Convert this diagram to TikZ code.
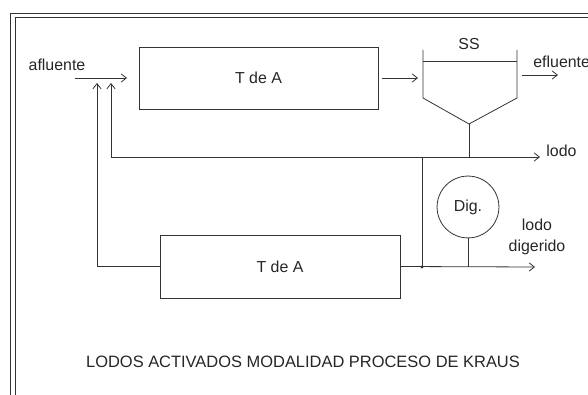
\documentclass[tikz,border=0pt]{standalone}
\usepackage{fontspec}
\setmainfont{Liberation Sans}
\usetikzlibrary{arrows.meta}

\begin{document}
\begin{tikzpicture}[
  x=0.0265cm, y=-0.0265cm,
  >={Straight Barb[length=1.4mm,width=2.2mm]},
  line width=0.6pt,
  color=black!80,
  lbl/.style={font=\fontsize{12}{14}\selectfont, text=black!85, inner sep=0pt},
  tank/.style={draw, minimum width=6.33cm, minimum height=1.64cm, font=\fontsize{12}{14}\selectfont, text=black!85},
]
\useasboundingbox (0,0) rectangle (588,395);
% frame (double line, cut by the page)
\draw (10,395) -- (10,13) -- (588,13);
\draw (15,395) -- (15,17) -- (588,17);
% nodes
\node[tank] (tda1) at (258.5,78) {T de A};
\node[tank, minimum width=6.36cm, minimum height=1.67cm] (tda2) at (280,266.5) {T de A};
\node[draw, circle, minimum size=1.64cm, lbl] (dig) at (468,207) {Dig.};
\node[lbl] (afl) at (57,65) {afluente};
\node[lbl] (ss) at (469,44) {SS};
\node[lbl, anchor=west] (efl) at (533,62) {efluente};
\node[lbl, anchor=west] (lodo) at (546,151) {lodo};
\node[lbl, align=center] (lodig) at (537,237) {lodo\\[2pt]digerido};
\node[lbl, font=\fontsize{12.4}{14}\selectfont] (title) at (303,362) {LODOS ACTIVADOS MODALIDAD PROCESO DE KRAUS};
% settler
\coordinate (sst) at (469,124);
\draw (423,50) -- (423,98) -- (sst) -- (517,98) -- (517,50);
\draw (423,61) -- (517,61);
% points on the lines
\coordinate (ain) at (75,78);
\coordinate (aout) at (127,78);
\coordinate (ssin) at (418,78);
\coordinate (e0) at (522,75);
\coordinate (e1) at (558,75);
\coordinate (r1) at (111,83);
\coordinate (r2) at (97,83);
\coordinate (l1) at (540,157);
\coordinate (j1) at (469,157);
\coordinate (j2) at (422,157);
\coordinate (j3) at (422,267);
\coordinate (j4) at (468,267);
\coordinate (d1) at (535,267);
% edges
\draw[->] (ain) -- (aout);
\draw[->, shorten <=3pt] (tda1.east) -- (ssin);
\draw[->] (e0) -- (e1);
\draw (sst) -- (j1);
\draw[<->] (r1) |- (l1);
\draw (j2) -- (j3);
\fill (j3) circle (1.2pt);
\draw[<-] (r2) |- (tda2.west);
\draw[->] (tda2.east) -- (d1);
\draw (dig.south) -- (j4);
\end{tikzpicture}
\end{document}
